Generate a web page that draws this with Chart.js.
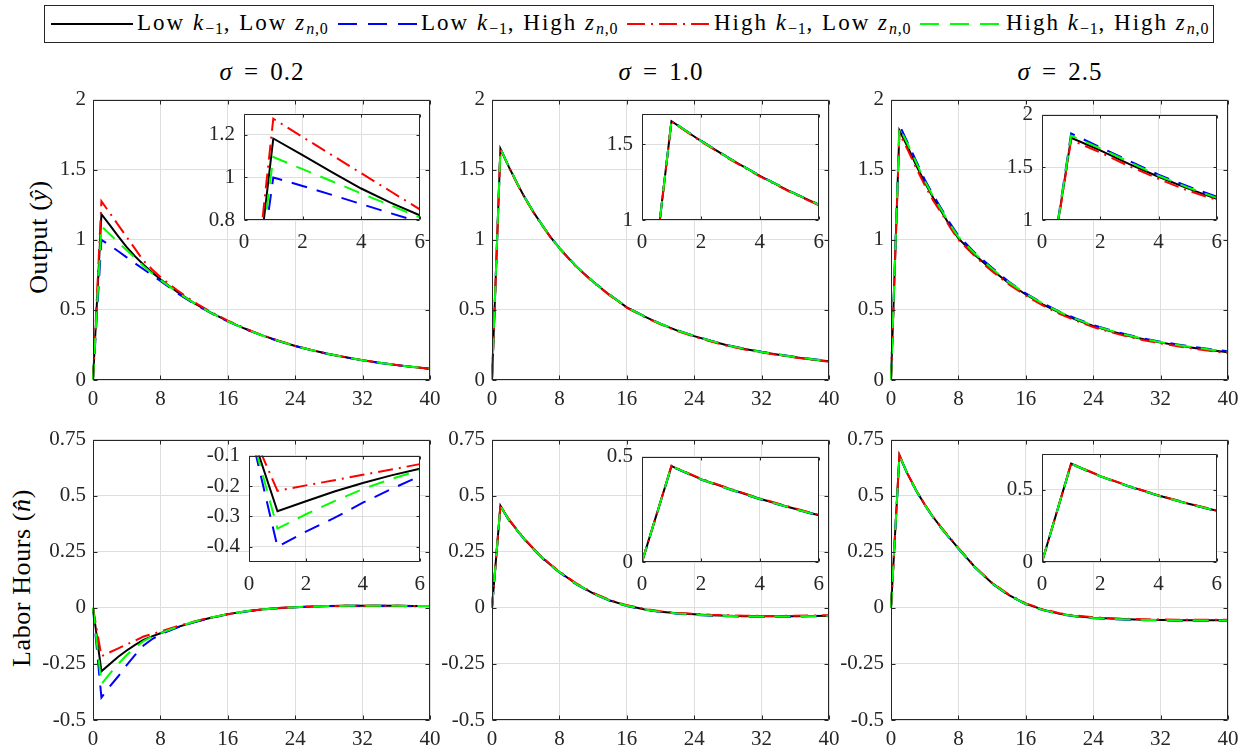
<!DOCTYPE html>
<html><head><meta charset="utf-8">
<script src="https://cdn.jsdelivr.net/npm/chart.js@4.4.1/dist/chart.umd.min.js"></script>
<style>
html,body{margin:0;padding:0;background:#fff;}
body{width:1251px;height:752px;position:relative;overflow:hidden;font-family:'Liberation Serif',serif;color:#262626;}
canvas{position:absolute;}
.ttl{position:absolute;font-family:'Liberation Serif',serif;font-size:25px;line-height:25px;white-space:nowrap;transform:translateX(-50%);top:59px;color:#000;letter-spacing:1px;word-spacing:4px;}
.ylab{position:absolute;font-family:'Liberation Serif',serif;font-size:26px;line-height:26px;white-space:nowrap;transform:translate(-50%,-50%) rotate(-90deg);letter-spacing:0.6px;color:#000;}
#legend{position:absolute;left:44px;top:5px;width:1170px;height:38px;border:1px solid #262626;box-sizing:border-box;background:#fff;z-index:5;}
.ls{position:absolute;top:0;}
.lt{position:absolute;font-family:'Liberation Serif',serif;font-size:23px;line-height:23px;white-space:nowrap;top:5px;letter-spacing:2px;color:#000;}
.lt sub{font-size:16px;letter-spacing:0.8px;vertical-align:-4px;line-height:0;}
</style></head><body>
<div id="legend">
  <svg class="ls" style="left:6px" width="82" height="36"><line x1="0" y1="18" x2="82" y2="18" stroke="#000" stroke-width="2"/></svg>
  <div class="lt" style="left:92px">Low <i>k</i><sub>−1</sub>, Low <i>z</i><sub><i>n</i>,0</sub></div>
  <svg class="ls" style="left:293px" width="79" height="36"><line x1="0" y1="18" x2="79" y2="18" stroke="#0000ff" stroke-width="2" stroke-dasharray="19 11"/></svg>
  <div class="lt" style="left:376px">Low <i>k</i><sub>−1</sub>, High <i>z</i><sub><i>n</i>,0</sub></div>
  <svg class="ls" style="left:582px" width="82" height="36"><line x1="0" y1="18" x2="82" y2="18" stroke="#ff0000" stroke-width="2" stroke-dasharray="18 6 2 6"/></svg>
  <div class="lt" style="left:669px">High <i>k</i><sub>−1</sub>, Low <i>z</i><sub><i>n</i>,0</sub></div>
  <svg class="ls" style="left:875px" width="79" height="36"><line x1="0" y1="18" x2="79" y2="18" stroke="#00ff00" stroke-width="2" stroke-dasharray="19 11"/></svg>
  <div class="lt" style="left:961px">High <i>k</i><sub>−1</sub>, High <i>z</i><sub><i>n</i>,0</sub></div>
</div>
<div class="ttl" style="left:262px"><i>σ</i> = 0.2</div>
<div class="ttl" style="left:661px"><i>σ</i> = 1.0</div>
<div class="ttl" style="left:1060px"><i>σ</i> = 2.5</div>
<div class="ylab" style="left:39px;top:237px">Output (<i>ŷ</i>)</div>
<div class="ylab" style="left:22px;top:578px">Labor Hours (<i>n̂</i>)</div>
<script>
// ---- time grid (quarters) ----
const T = [0,1,2,3,4,5,6,7,8,10,12,14,16,18,20,22,24,26,28,30,32,34,36,38,40];

// ---- Output, sigma = 0.2 ----
const y02_LL = [0,1.183,1.105,1.025,0.948,0.882,0.822,0.768,0.718,0.628,0.548,0.480,0.420,0.367,0.320,0.280,0.243,0.212,0.185,0.162,0.141,0.123,0.107,0.093,0.081];
const y02_LH = [0,1.000,0.960,0.918,0.875,0.832,0.790,0.748,0.706,0.620,0.544,0.477,0.418,0.365,0.318,0.278,0.242,0.211,0.184,0.161,0.140,0.122,0.106,0.092,0.080];
const y02_HL = [0,1.276,1.190,1.105,1.020,0.935,0.850,0.790,0.735,0.640,0.556,0.485,0.424,0.370,0.322,0.281,0.244,0.213,0.186,0.162,0.141,0.123,0.107,0.093,0.081];
const y02_HH = [0,1.096,1.039,0.982,0.925,0.869,0.812,0.762,0.714,0.626,0.548,0.479,0.419,0.366,0.319,0.279,0.243,0.212,0.185,0.162,0.141,0.123,0.107,0.093,0.081];

// ---- Output, sigma = 1.0 ----
const y10_LL = [0,1.650,1.520,1.400,1.290,1.190,1.100,1.015,0.940,0.810,0.700,0.605,0.518,0.455,0.400,0.352,0.313,0.278,0.246,0.221,0.199,0.180,0.163,0.147,0.133];
const y10_LH = [0,1.652,1.522,1.402,1.292,1.192,1.102,1.017,0.942,0.812,0.702,0.607,0.520,0.457,0.402,0.354,0.315,0.280,0.248,0.223,0.201,0.182,0.165,0.149,0.135];
const y10_HL = [0,1.648,1.517,1.397,1.287,1.187,1.097,1.012,0.937,0.807,0.697,0.602,0.515,0.452,0.397,0.349,0.310,0.275,0.243,0.218,0.196,0.177,0.160,0.144,0.130];
const y10_HH = [0,1.651,1.521,1.401,1.291,1.191,1.101,1.016,0.941,0.811,0.701,0.606,0.519,0.456,0.401,0.353,0.314,0.279,0.247,0.222,0.200,0.181,0.164,0.148,0.134];

// ---- Output, sigma = 2.5 ----
const y25_LL = [0,1.780,1.660,1.530,1.410,1.300,1.200,1.100,1.010,0.890,0.785,0.690,0.610,0.540,0.480,0.430,0.385,0.350,0.318,0.290,0.267,0.247,0.229,0.213,0.198];
const y25_LH = [0,1.820,1.690,1.560,1.430,1.320,1.220,1.120,1.030,0.905,0.800,0.700,0.618,0.548,0.488,0.437,0.392,0.356,0.324,0.296,0.273,0.253,0.235,0.219,0.205];
const y25_HL = [0,1.760,1.640,1.510,1.390,1.280,1.190,1.090,1.000,0.880,0.775,0.682,0.602,0.532,0.472,0.422,0.378,0.342,0.311,0.284,0.261,0.241,0.223,0.207,0.192];
const y25_HH = [0,1.800,1.680,1.550,1.420,1.310,1.210,1.110,1.020,0.898,0.793,0.696,0.615,0.545,0.485,0.434,0.389,0.353,0.321,0.293,0.270,0.250,0.232,0.216,0.202];

// ---- Labor hours, sigma = 0.2 ----
const n02_LL = [0,-0.283,-0.250,-0.218,-0.190,-0.165,-0.143,-0.127,-0.113,-0.086,-0.063,-0.044,-0.028,-0.016,-0.007,-0.001,0.003,0.006,0.008,0.009,0.009,0.009,0.009,0.008,0.008];
const n02_LH = [0,-0.400,-0.350,-0.305,-0.255,-0.210,-0.168,-0.140,-0.118,-0.088,-0.064,-0.045,-0.029,-0.017,-0.008,-0.002,0.003,0.006,0.008,0.009,0.009,0.009,0.009,0.008,0.008];
const n02_HL = [0,-0.216,-0.198,-0.181,-0.163,-0.146,-0.128,-0.117,-0.106,-0.082,-0.061,-0.043,-0.028,-0.016,-0.007,-0.001,0.003,0.006,0.008,0.009,0.009,0.009,0.009,0.008,0.008];
const n02_HH = [0,-0.340,-0.293,-0.250,-0.210,-0.177,-0.148,-0.128,-0.113,-0.085,-0.062,-0.043,-0.028,-0.016,-0.007,-0.001,0.003,0.006,0.008,0.009,0.009,0.009,0.009,0.008,0.008];

// ---- Labor hours, sigma = 1.0 ----
const n10_LL = [0,0.455,0.393,0.345,0.300,0.260,0.222,0.190,0.160,0.107,0.065,0.033,0.010,-0.006,-0.017,-0.024,-0.029,-0.033,-0.035,-0.037,-0.038,-0.038,-0.037,-0.036,-0.035];
const n10_LH = [0,0.453,0.391,0.343,0.298,0.258,0.220,0.188,0.158,0.105,0.063,0.031,0.008,-0.008,-0.019,-0.026,-0.031,-0.035,-0.037,-0.039,-0.040,-0.040,-0.039,-0.038,-0.037];
const n10_HL = [0,0.457,0.395,0.347,0.302,0.262,0.224,0.192,0.162,0.109,0.067,0.035,0.012,-0.004,-0.015,-0.022,-0.027,-0.031,-0.033,-0.035,-0.036,-0.036,-0.035,-0.034,-0.033];
const n10_HH = [0,0.455,0.392,0.344,0.299,0.259,0.221,0.189,0.159,0.106,0.064,0.032,0.009,-0.007,-0.018,-0.025,-0.030,-0.034,-0.036,-0.038,-0.039,-0.039,-0.038,-0.037,-0.036];

// ---- Labor hours, sigma = 2.5 ----
const n25_LL = [0,0.680,0.594,0.523,0.460,0.405,0.355,0.310,0.265,0.180,0.110,0.057,0.018,-0.008,-0.026,-0.037,-0.044,-0.048,-0.051,-0.053,-0.054,-0.055,-0.055,-0.055,-0.055];
const n25_LH = [0,0.678,0.592,0.521,0.458,0.403,0.353,0.308,0.263,0.178,0.108,0.055,0.016,-0.010,-0.028,-0.039,-0.046,-0.050,-0.053,-0.055,-0.056,-0.057,-0.057,-0.057,-0.057];
const n25_HL = [0,0.682,0.596,0.525,0.462,0.407,0.357,0.312,0.267,0.182,0.112,0.059,0.020,-0.006,-0.024,-0.035,-0.042,-0.046,-0.049,-0.051,-0.052,-0.053,-0.053,-0.053,-0.053];
const n25_HH = [0,0.679,0.593,0.522,0.459,0.404,0.354,0.309,0.264,0.179,0.109,0.056,0.017,-0.009,-0.027,-0.038,-0.045,-0.049,-0.052,-0.054,-0.055,-0.056,-0.056,-0.056,-0.056];

// ---- ticks ----
const xMainTicks = [0,8,16,24,32,40];
const xInsetTicks = [0,2,4,6];
const yOutTicks = [0,0.5,1,1.5,2];
const yLabTicks = [-0.5,-0.25,0,0.25,0.5,0.75];
const yIn02Ticks = [0.8,1,1.2];
const yIn10Ticks = [1,1.5];
const yIn25Ticks = [1,1.5,2];
const nIn02Ticks = [-0.4,-0.3,-0.2,-0.1];
const nIn10Ticks = [0,0.5];
const nIn25Ticks = [0,0.5];

const STYLE = [
  {color:'#000000', dash:[], order:4},
  {color:'#0000ff', dash:[16,10], order:3},
  {color:'#ff0000', dash:[15,6,2,6], order:2},
  {color:'#00ff00', dash:[16,10], order:1}
];

const boxPlugin = {
  id:'box',
  beforeDraw(chart, args, o){
    const a = chart.chartArea, ctx = chart.ctx;
    if(o.fill){ctx.save();ctx.fillStyle='#ffffff';ctx.fillRect(a.left,a.top,a.right-a.left,a.bottom-a.top);ctx.restore();}
  },
  afterDraw(chart, args, o){
    const a = chart.chartArea, ctx = chart.ctx, tl = o.tick;
    ctx.save();
    ctx.strokeStyle='#262626'; ctx.lineWidth=1;
    const L=Math.round(a.left)+0.5, R=Math.round(a.right)-0.5, Tp=Math.round(a.top)+0.5, B=Math.round(a.bottom)-0.5;
    ctx.beginPath();
    ctx.rect(L,Tp,R-L,B-Tp);
    const xs=chart.scales.x, ys=chart.scales.y;
    xs.ticks.forEach(t=>{const p=Math.round(xs.getPixelForValue(t.value))+0.5;ctx.moveTo(p,B);ctx.lineTo(p,B-tl);ctx.moveTo(p,Tp);ctx.lineTo(p,Tp+tl);});
    ys.ticks.forEach(t=>{const p=Math.round(ys.getPixelForValue(t.value))+0.5;ctx.moveTo(L,p);ctx.lineTo(L+tl,p);ctx.moveTo(R,p);ctx.lineTo(R-tl,p);});
    ctx.stroke();
    ctx.restore();
  }
};

function makeChart(area, series, xr, xt, yr, yt, inset){
  const YW = inset?52:62, PT = inset?12:14, PR = inset?14:20, XH = inset?34:36;
  const c = document.createElement('canvas');
  const w = (area.R-area.L)+YW+PR, h = (area.B-area.T)+PT+XH;
  c.width=w; c.height=h;
  c.style.left=(area.L-YW)+'px'; c.style.top=(area.T-PT)+'px';
  c.style.width=w+'px'; c.style.height=h+'px';
  c.style.zIndex = inset?3:1;
  document.body.appendChild(c);
  const fontSpec = {family:"'Liberation Serif', serif", size:21};
  new Chart(c.getContext('2d'), {
    type:'line',
    data:{datasets: series.map((vals,k)=>({
      data: T.map((t,i)=>({x:t,y:vals[i]})),
      borderColor:STYLE[k].color, borderWidth:2, borderDash:STYLE[k].dash,
      pointRadius:0, tension:0, fill:false, order:STYLE[k].order,
      clip: inset?0:2, borderCapStyle:'butt', borderJoinStyle:'miter'
    }))},
    options:{
      responsive:false, animation:false, devicePixelRatio:1,
      layout:{padding:{top:PT,right:PR,left:0,bottom:0}},
      plugins:{legend:{display:false}, tooltip:{enabled:false}, box:{fill:inset, tick:inset?3:4}},
      scales:{
        x:{type:'linear', min:xr[0], max:xr[1],
           afterBuildTicks:s=>{s.ticks = xt.map(v=>({value:v}));},
           afterFit:s=>{s.height = XH;},
           grid:{color:'#dedede', lineWidth:1, drawTicks:false},
           border:{display:false},
           ticks:{autoSkip:false, maxRotation:0, padding:inset?10:7, color:'#262626', font:fontSpec, callback:v=>String(v)}},
        y:{type:'linear', min:yr[0], max:yr[1],
           afterBuildTicks:s=>{s.ticks = yt.map(v=>({value:v}));},
           afterFit:s=>{s.width = YW;},
           grid:{color:'#dedede', lineWidth:1, drawTicks:false},
           border:{display:false},
           ticks:{autoSkip:false, padding:inset?9:7, color:'#262626', font:fontSpec, callback:v=>String(v)}}
      }
    },
    plugins:[boxPlugin]
  });
}

const topRow = {T:94, B:380}, botRow = {T:434, B:720};
const cols = [{L:93,R:430},{L:492,R:829},{L:891,R:1228}];

// main panels
makeChart({L:cols[0].L,R:cols[0].R,T:topRow.T,B:topRow.B}, [y02_LL,y02_LH,y02_HL,y02_HH], [0,40], xMainTicks, [0,2], yOutTicks, false);
makeChart({L:cols[1].L,R:cols[1].R,T:topRow.T,B:topRow.B}, [y10_LL,y10_LH,y10_HL,y10_HH], [0,40], xMainTicks, [0,2], yOutTicks, false);
makeChart({L:cols[2].L,R:cols[2].R,T:topRow.T,B:topRow.B}, [y25_LL,y25_LH,y25_HL,y25_HH], [0,40], xMainTicks, [0,2], yOutTicks, false);
makeChart({L:cols[0].L,R:cols[0].R,T:botRow.T,B:botRow.B}, [n02_LL,n02_LH,n02_HL,n02_HH], [0,40], xMainTicks, [-0.5,0.75], yLabTicks, false);
makeChart({L:cols[1].L,R:cols[1].R,T:botRow.T,B:botRow.B}, [n10_LL,n10_LH,n10_HL,n10_HH], [0,40], xMainTicks, [-0.5,0.75], yLabTicks, false);
makeChart({L:cols[2].L,R:cols[2].R,T:botRow.T,B:botRow.B}, [n25_LL,n25_LH,n25_HL,n25_HH], [0,40], xMainTicks, [-0.5,0.75], yLabTicks, false);

// insets
makeChart({L:244,R:421,T:104,B:220}, [y02_LL,y02_LH,y02_HL,y02_HH], [0,6], xInsetTicks, [0.8,1.3], yIn02Ticks, true);
makeChart({L:642,R:820,T:104,B:220}, [y10_LL,y10_LH,y10_HL,y10_HH], [0,6], xInsetTicks, [1,1.7], yIn10Ticks, true);
makeChart({L:1042,R:1218,T:105,B:220}, [y25_LL,y25_LH,y25_HL,y25_HH], [0,6], xInsetTicks, [1,2], yIn25Ticks, true);
makeChart({L:249,R:421,T:446,B:562}, [n02_LL,n02_LH,n02_HL,n02_HH], [0,6], xInsetTicks, [-0.45,-0.1], nIn02Ticks, true);
makeChart({L:642,R:820,T:447,B:562}, [n10_LL,n10_LH,n10_HL,n10_HH], [0,6], xInsetTicks, [0,0.5], nIn10Ticks, true);
makeChart({L:1042,R:1218,T:444,B:562}, [n25_LL,n25_LH,n25_HL,n25_HH], [0,6], xInsetTicks, [0,0.75], nIn25Ticks, true);
</script>
</body></html>
